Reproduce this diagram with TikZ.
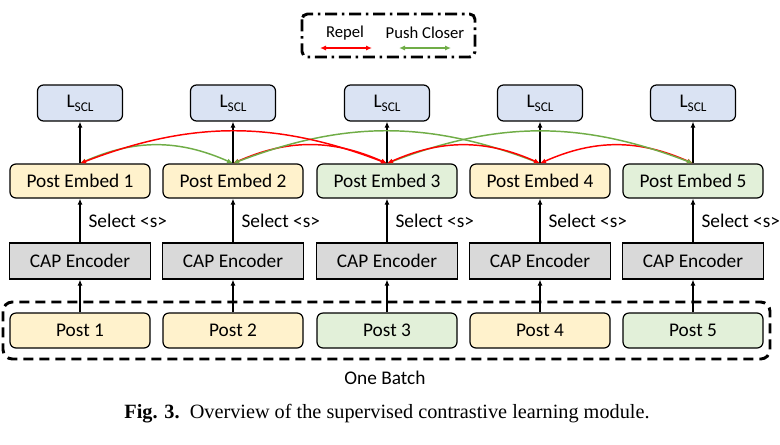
\documentclass[tikz,border=0pt]{standalone}
\usepackage{fontspec}
\setmainfont{Carlito}
\newfontfamily\capfont{Liberation Serif}
\usetikzlibrary{arrows.meta}
\definecolor{yel}{HTML}{FFF2CC}
\definecolor{grn}{HTML}{E2F0D9}
\definecolor{blu}{HTML}{DAE3F3}
\definecolor{gry}{HTML}{D9D9D9}
\definecolor{rep}{HTML}{FF0000}
\definecolor{pull}{HTML}{70AD47}
\begin{document}
\begin{tikzpicture}[x=0.75pt,y=0.75pt,
  base/.style={draw,line width=0.9pt,inner sep=0pt,font=\fontsize{14.5}{16}\selectfont},
  lbox/.style={base,rounded corners=4.5pt,fill=blu,minimum width=63.75pt,minimum height=27pt},
  ebox/.style={base,rounded corners=4.5pt,minimum width=105pt,minimum height=25.5pt},
  cbox/.style={base,fill=gry,minimum width=105.75pt,minimum height=27pt},
  pbox/.style={base,rounded corners=4.5pt,minimum width=105pt,minimum height=26.25pt},
  blk/.style={line width=0.9pt,-{Latex[length=4.5pt,width=3.8pt]}},
  tip/.style={{Latex[length=4.5pt,width=3.8pt]}-{Latex[length=4.5pt,width=3.8pt]}},
  repel/.style={tip,draw=rep,line width=1.1pt},
  closer/.style={tip,draw=pull,line width=1.1pt},
  lbl/.style={font=\fontsize{14.5}{16}\selectfont,anchor=west,inner sep=0pt},
  leg/.style={font=\fontsize{12.5}{14}\selectfont,inner sep=0pt}
]
\useasboundingbox (0,0) rectangle (780,-444);

% legend
\draw[line width=2.2pt,rounded corners=4pt,dash pattern=on 9pt off 3.5pt on 2pt off 3.5pt] (302,-14) rectangle (475,-57);
\node[leg] (repl) at (345,-33) {Repel};
\node[leg] (pcl) at (425,-33) {Push Closer};
\coordinate (ra) at (320,-48); \coordinate (rb) at (372,-48);
\coordinate (ga) at (399,-48); \coordinate (gb) at (451,-48);
\draw[repel] (ra) -- (rb);
\draw[closer] (ga) -- (gb);

% batch box
\draw[line width=2.2pt,rounded corners=7pt,dash pattern=on 7.5pt off 4.5pt] (3,-302) rectangle (770,-359);
\node[font=\fontsize{14.5}{16}\selectfont] (batch) at (385,-378) {One Batch};

\foreach \i/\x/\c in {1/80/yel,2/233/yel,3/387/grn,4/540/yel,5/693/grn}{
  \node[lbox] (l\i) at (\x,-103) {L\raisebox{-3pt}{\fontsize{10}{10}\selectfont SCL}};
  \node[ebox,fill=\c] (e\i) at (\x,-181) {Post Embed \i};
  \node[cbox] (c\i) at (\x,-261) {CAP Encoder};
  \node[pbox,fill=\c] (p\i) at (\x,-330.5) {Post \i};
  \draw[blk] (e\i.north) -- (l\i.south);
  \draw[blk] (c\i.north) -- node[lbl,pos=0.5,xshift=6pt] {Select <s>} (e\i.south);
  \draw[blk] (p\i.north) -- (c\i.south);
}

% repel / push closer arcs
\draw[repel] (e4.north) to[bend left=24] (e5.north);
\draw[closer] (e3.north) to[bend left=21] (e5.north);
\draw[repel] (e2.north) to[bend left=24] (e3.north);
\draw[closer] (e1.north) to[bend left=24] (e2.north);
\draw[closer] (e2.north) to[bend left=21] (e4.north);
\draw[repel] (e1.north) to[bend left=21] (e3.north);
\draw[repel] (e3.north) to[bend left=24] (e4.north);

% caption
\node[font=\capfont\fontsize{15.2}{17}\selectfont] (cap) at (387,-414) {\textbf{Fig. 3.}\enspace Overview of the supervised contrastive learning module.};
\end{tikzpicture}
\end{document}
